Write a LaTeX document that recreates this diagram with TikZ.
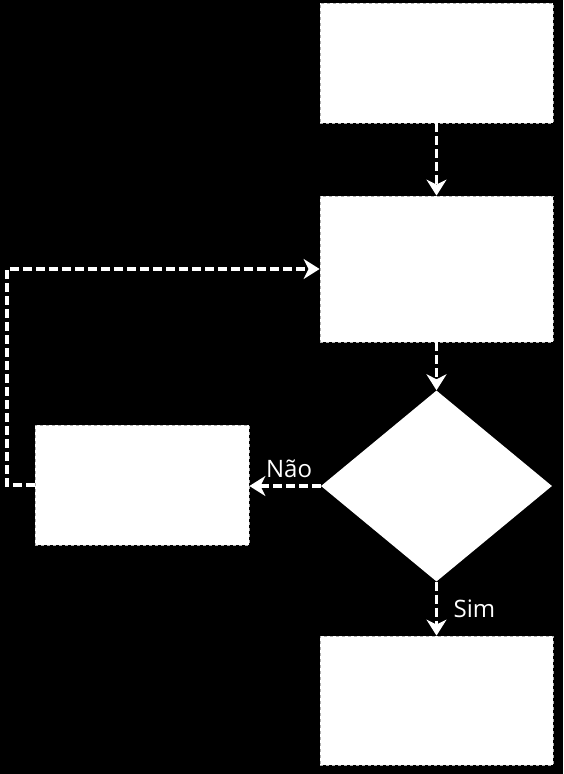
\documentclass[tikz,border=0pt]{standalone}
\usepackage{fontspec}
\setmainfont{Open Sans}
\usetikzlibrary{shapes.geometric, arrows.meta, positioning}

\tikzset{
    headtip/.tip={Stealth[length=16pt, width=20pt, inset=5pt]}
}

\begin{document}
\begin{tikzpicture}[x=1pt, y=-1pt,
    box/.style={draw=gray!60, dashed, fill=white, line width=0.8pt, inner sep=0pt, minimum width=233pt},
    decision/.style={diamond, fill=white, inner sep=0pt, minimum width=231pt, minimum height=191pt},
    flow/.style={draw=white, line width=3.8pt, dash pattern=on 9pt off 4pt, -headtip},
    answer/.style={text=white, font=\fontsize{24}{28}\selectfont}]

    % background
    \fill [black] (0, 0) rectangle (563, 774);

    % blocks
    \node [box, minimum height=120pt] (start) at (436.5, 63) {};
    \node [box, minimum height=146pt] (step) at (436.5, 269) {};
    \node [decision] (test) at (436.5, 486) {};
    \node [box, minimum width=214pt, minimum height=120pt] (fix) at (142, 485) {};
    \node [box, minimum height=129pt] (done) at (436.5, 700.5) {};
    \coordinate (back) at (7, 269);

    % arrows
    \draw [flow] (start) -- (step);
    \draw [flow] (step) -- (test);
    \draw [flow] (test.west) -- (fix.east |- test.west)
    node [answer, above, midway, yshift=3pt, xshift=4pt] {Não};
    \draw [flow] (test.south) -- (done.north)
    node [answer, right, midway, xshift=12pt] {Sim};
    \draw [flow] (fix.west) -| (back) -- (step.west);
\end{tikzpicture}
\end{document}
